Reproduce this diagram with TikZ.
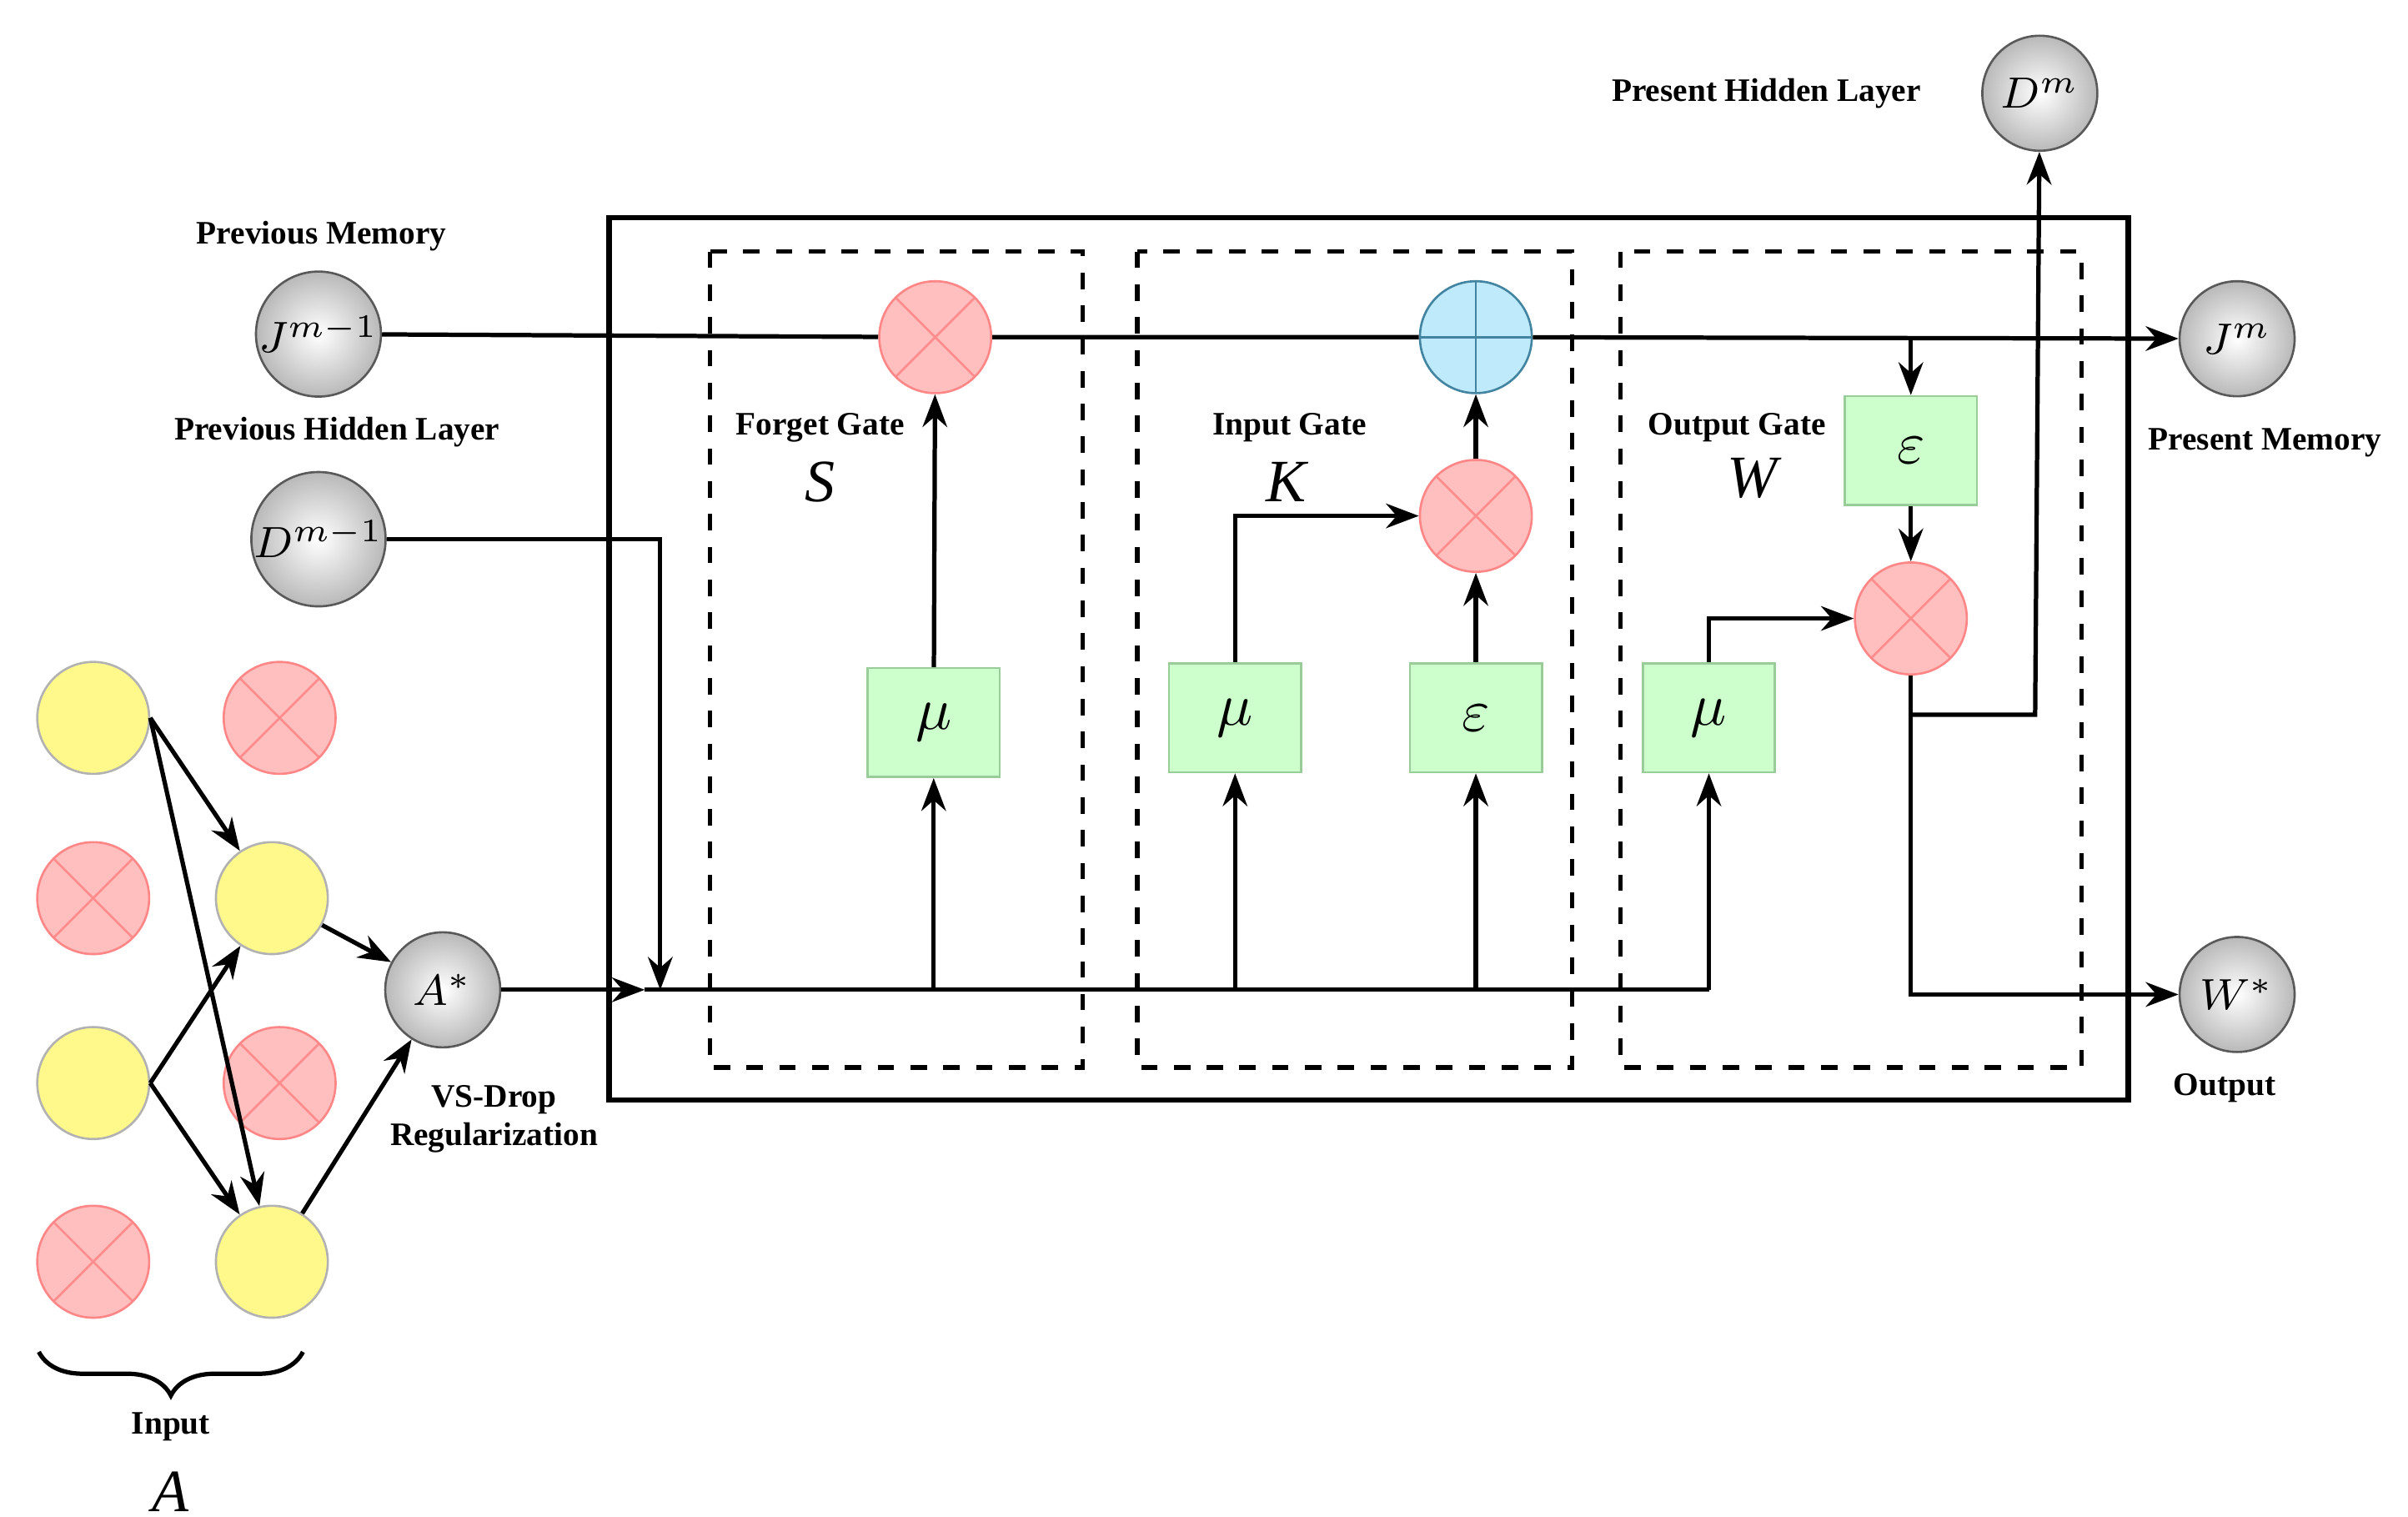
\documentclass[tikz,border=0pt]{standalone}
\usepackage{fontspec}
\setmainfont{Liberation Serif}
\usetikzlibrary{arrows.meta,decorations.pathreplacing}
\begin{document}
\begin{tikzpicture}[x=0.01cm,y=-0.01cm,
 lab/.style={font=\fontsize{6}{7}\selectfont\bfseries,align=center},
 big/.style={font=\fontsize{11}{12}\selectfont\itshape},
 gray/.style={circle,draw=gray!70!black,inner color=white,outer color=gray!55,minimum size=0.74cm,inner sep=0pt,font=\fontsize{8.5}{9}\selectfont},
 mult/.style={circle,draw=pink!70!red,fill=red!25,minimum size=0.72cm,inner sep=0pt,path picture={\draw[red!45] (path picture bounding box.south west)--(path picture bounding box.north east) (path picture bounding box.north west)--(path picture bounding box.south east);}},
 plus/.style={circle,draw=cyan!60!black,fill=cyan!25,minimum size=0.72cm,inner sep=0pt,path picture={\draw[cyan!60!black] (path picture bounding box.south)--(path picture bounding box.north) (path picture bounding box.west)--(path picture bounding box.east);}},
 yel/.style={circle,draw=gray!60,fill=yellow!45,minimum size=0.72cm,inner sep=0pt},
 gbox/.style={draw=green!50!black!40,fill=green!20,minimum width=0.85cm,minimum height=0.7cm,font=\fontsize{11}{12}\selectfont},
 arr/.style={-{Stealth[length=6pt]},line width=0.8pt},
 ln/.style={line width=0.8pt},
 dbox/.style={dashed,line width=0.8pt}]
\useasboundingbox (0,0) rectangle (1550,976);
\draw[line width=1pt] (392,140) rectangle (1370,708);
\draw[dbox] (457,162) rectangle (697,687);
\draw[dbox] (732,162) rectangle (1012,687);
\draw[dbox] (1043,162) rectangle (1340,687);
\node[gray] (Jp) at (205,215) {$J^{m-1}$};
\node[gray] (Dp) at (205,347) {$D^{m-1}$};
\node[gray] (As) at (285,637) {$A^{*}$};
\node[gray] (Jm) at (1440,218) {$J^{m}$};
\node[gray] (Ws) at (1440,640) {$W^{*}$};
\node[gray] (Dm) at (1313,60) {$D^{m}$};
\node[mult] (fm) at (602,217) {};
\node[plus] (pl) at (950,217) {};
\node[mult] (im) at (950,332) {};
\node[mult] (om) at (1230,398) {};
\node[gbox] (mf) at (601,465) {$\mu$};
\node[gbox] (mi) at (795,462) {$\mu$};
\node[gbox] (ei) at (950,462) {$\varepsilon$};
\node[gbox] (mo) at (1100,462) {$\mu$};
\node[gbox] (eo) at (1230,290) {$\varepsilon$};
\coordinate (c1) at (425,637); \coordinate (c2) at (1100,637);
\draw[ln] (Jp)--(fm)--(pl); \draw[arr] (pl)--(Jm);
\draw[arr] (1230,218)--(eo);
\draw[arr] (eo)--(om);
\draw[arr] (mf)--(fm);
\draw[arr] (mi.north)--(795,332)--(im);
\draw[arr] (ei)--(im); \draw[arr] (im)--(pl);
\draw[arr] (mo.north)--(1100,398)--(om);
\draw[arr] (om)--(1230,640)--(Ws);
\draw[arr] (1230,460)--(1310,460)--(Dm);
\draw[arr] (Dp)--(425,347)--(c1);
\draw[arr] (As)--(415,637); \draw[ln] (415,637)--(c2);
\draw[arr] (c2)--(mo);
\draw[arr] (601,637)--(mf);
\draw[arr] (795,637)--(mi);
\draw[arr] (950,637)--(ei);
\node[yel] (a1) at (60,462) {};
\node[mult] (a2) at (60,578) {};
\node[yel] (a3) at (60,697) {};
\node[mult] (a4) at (60,812) {};
\node[mult] (b1) at (180,462) {};
\node[yel] (b2) at (175,578) {};
\node[mult] (b3) at (180,697) {};
\node[yel] (b4) at (175,812) {};
\draw[arr] (a1.east)--(b2); \draw[arr] (a1.east)--(b4);
\draw[arr] (a3.east)--(b2); \draw[arr] (a3.east)--(b4);
\draw[arr] (b2)--(As); \draw[arr] (b4)--(As);
\draw[ln,decorate,decoration={brace,mirror,amplitude=8pt}] (25,870)--(195,870);
\node[lab] at (207,152) {Previous Memory};
\node[lab] at (217,278) {Previous Hidden Layer};
\node[lab] at (528,275) {Forget Gate}; \node[big] at (528,310) {S};
\node[lab] at (830,275) {Input Gate}; \node[big] at (828,310) {K};
\node[lab] at (1118,275) {Output Gate}; \node[big] at (1128,308) {W};
\node[lab] at (1458,285) {Present Memory};
\node[lab] at (1137,60) {Present Hidden Layer};
\node[lab] at (1432,700) {Output};
\node[lab] at (318,720) {VS-Drop\\Regularization};
\node[lab] at (110,918) {Input};
\node[big] at (110,960) {A};
\end{tikzpicture}
\end{document}
